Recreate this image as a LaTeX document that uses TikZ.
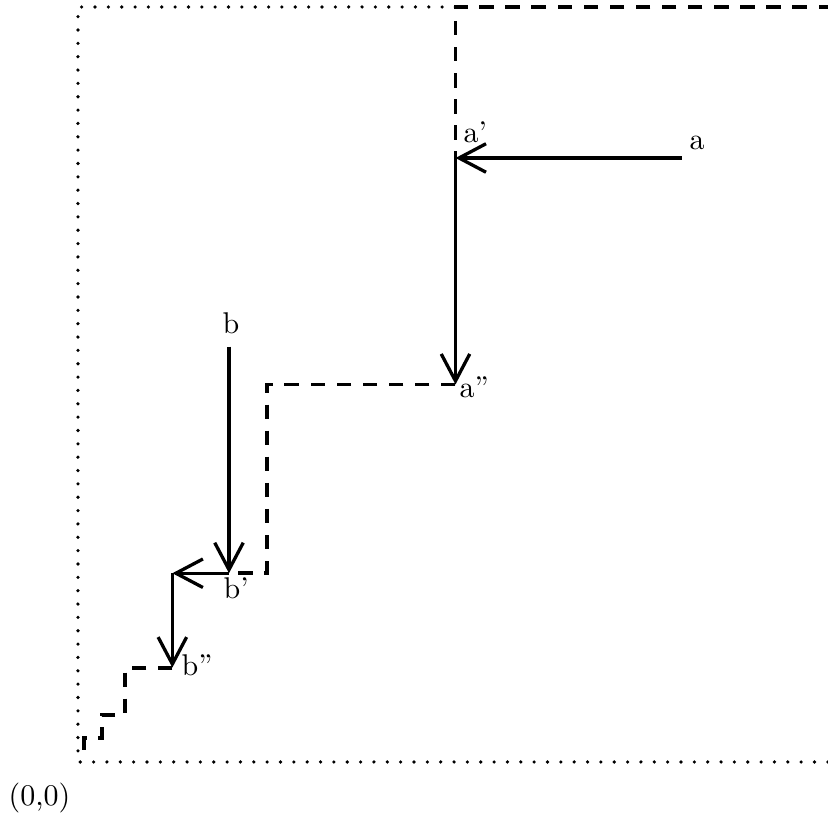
\documentclass[tikz,border=0pt]{standalone}
\usetikzlibrary{arrows.meta}
\tikzset{
	vec/.style={line width=1.1pt, -{Straight Barb[length=9pt, width=9.5pt]}},
	walk/.style={line width=1.3pt, dash pattern=on 4.8pt off 3.9pt},
	grid dots/.style={line width=1.2pt, line cap=round, dash pattern=on 0pt off 4.45pt},
	lbl/.style={anchor=base west, inner sep=0pt}
}

\begin{document}
\begin{tikzpicture}[x=8.845cm, y=8.845cm]
	\useasboundingbox (-0.1033,-0.0781) rectangle (0.9934,1.0093);
	% points
	\coordinate (o) at (0,0);
	\coordinate (a) at (0.8,0.8);
	\coordinate (a1) at (0.5,0.8);
	\coordinate (a2) at (0.5,0.5);
	\coordinate (b) at (0.2,0.55);
	\coordinate (b1) at (0.2,0.25);
	\coordinate (bk) at (0.125,0.25);
	\coordinate (b2) at (0.125,0.125);
	% frame
	\draw [grid dots] (0.5,1) -- (0,1) -- (o) -- (1,0) ;
	% staircase
	\draw [walk] (1,1) -- (0.5,1) -- (a1) ;
	\draw [walk] (a2) -- (0.25,0.5) -- (0.25,0.25) -- (b1) ;
	\draw [walk] (b2) -- (0.0625,0.125) -- (0.0625,0.0625) -- (0.03125,0.0625)
		-- (0.03125,0.03125) -- (0.0078,0.03125) -- (0.0078,0.0156) -- (0.004,0.0156) ;
	% arrows
	\draw [vec] (a) -- (a1) ;
	\draw [vec] (a1) -- (a2) ;
	\draw [vec] (b) -- (b1) ;
	\draw [vec] (b1) -- (bk) ;
	\draw [vec] (bk) -- (b2) ;
	% labels
	\node [lbl] (la) at (0.8093,0.8106) {a};
	\node [lbl] (la1) at (0.5099,0.8199) {a'};
	\node [lbl] (la2) at (0.5046,0.4834) {a''};
	\node [lbl] (lb) at (0.1907,0.5669) {b};
	\node [lbl] (lb1) at (0.1921,0.2172) {b'};
	\node [lbl] (lb2) at (0.1364,0.1152) {b''};
	\node [lbl] (lo) at (-0.0927,-0.0570) {(0,0)};
\end{tikzpicture}
\end{document}
